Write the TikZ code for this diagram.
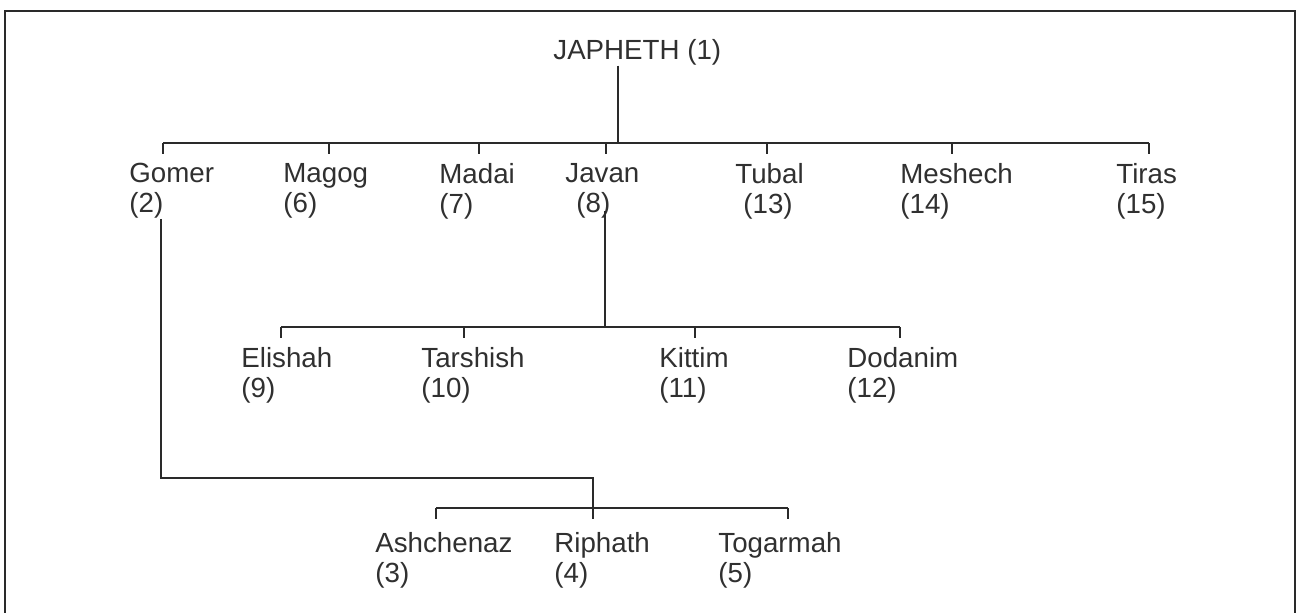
\documentclass[tikz,border=0pt]{standalone}
\usepackage{fontspec}
\setmainfont{Liberation Sans}
\definecolor{ln}{HTML}{2A2A2A}
\definecolor{txt}{HTML}{303030}
\begin{document}
\begin{tikzpicture}[x=0.5pt,y=-0.5pt,
  lbl/.style={anchor=north west, inner sep=0pt, align=left,
    font=\fontsize{13.85}{15}\selectfont, text=txt},
  conn/.style={line width=1pt, draw=ln},
  tickline/.style={line width=0.6pt, draw=ln},
  frameline/.style={line width=1pt, draw=ln}]
\useasboundingbox (0,0) rectangle (1298,612);
\fill[white] (0,0) rectangle (1298,612);
\draw[frameline] (5,625) -- (5,11) -- (1295,11) -- (1295,625);

% nodes
\node[lbl] (japheth) at (553,39) {JAPHETH (1)};
\node[lbl] (gomer)   at (129,163) {Gomer\\(2)};
\node[lbl] (magog)   at (283,163) {Magog\\(6)};
\node[lbl] (madai)   at (439,163) {Madai\\(7)};
\node[lbl] (javan)   at (565,163) {Javan\\\hspace*{5.5pt}(8)};
\node[lbl] (tubal)   at (735,163) {Tubal\\\hspace*{4pt}(13)};
\node[lbl] (meshech) at (900,163) {Meshech\\(14)};
\node[lbl] (tiras)   at (1116,163) {Tiras\\(15)};
\node[lbl] (elishah) at (241,347) {Elishah\\(9)};
\node[lbl] (tarshish) at (421,347) {Tarshish\\(10)};
\node[lbl] (kittim)  at (659,347) {Kittim\\(11)};
\node[lbl] (dodanim) at (847,347) {Dodanim\\(12)};
\node[lbl] (ashchenaz) at (375,532) {Ashchenaz\\(3)};
\node[lbl] (riphath) at (554,532) {Riphath\\(4)};
\node[lbl] (togarmah) at (718,532) {Togarmah\\(5)};

% junction coordinates
\coordinate (jbar) at (618,143);
\coordinate (b1l) at (163,143);
\coordinate (b1r) at (1149,143);
\coordinate (t2) at (163,143);
\coordinate (t6) at (329,143);
\coordinate (t7) at (479,143);
\coordinate (t8) at (606,143);
\coordinate (t13) at (767,143);
\coordinate (t14) at (952,143);
\coordinate (t15) at (1149,143);
\coordinate (jvx) at (605,327);
\coordinate (b2l) at (281,327);
\coordinate (b2r) at (900,327);
\coordinate (t9) at (281,327);
\coordinate (t10) at (464,327);
\coordinate (t11) at (695,327);
\coordinate (t12) at (900,327);
\coordinate (gx) at (161,478);
\coordinate (gr) at (593,478);
\coordinate (t4) at (593,519);
\coordinate (b3l) at (436,508);
\coordinate (b3r) at (788,508);
\coordinate (t3) at (436,508);
\coordinate (t5) at (788,508);

% Japheth to his sons
\draw[conn] (japheth.south -| jbar) -- (jbar);
\draw[conn] (b1l) -- (b1r);
\foreach \t in {t2,t6,t7,t8,t13,t14,t15}
  \draw[tickline] (\t) -- ++(0,11);

% Javan to his sons
\draw[conn] (javan.south -| jvx) ++(0,-8) -- (jvx);
\draw[conn] (b2l) -- (b2r);
\foreach \t in {t9,t10,t11,t12}
  \draw[tickline] (\t) -- ++(0,11);

% Gomer to his sons
\draw[conn] (gomer.south -| gx) -- (gx) -- (gr) -- (t4);
\draw[conn] (b3l) -- (b3r);
\foreach \t in {t3,t5}
  \draw[tickline] (\t) -- ++(0,11);
\end{tikzpicture}
\end{document}
